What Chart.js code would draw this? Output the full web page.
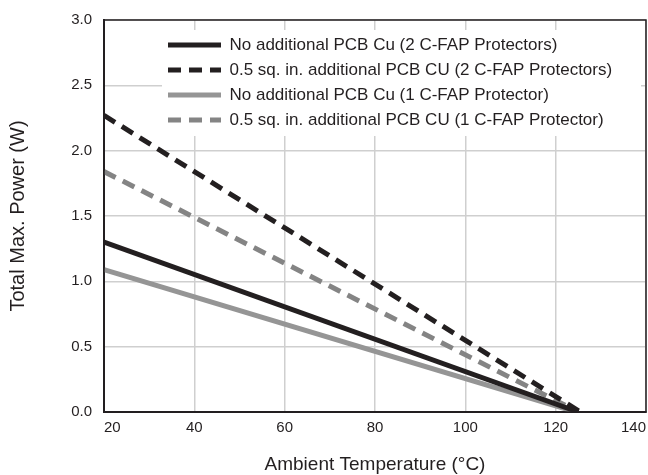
<!DOCTYPE html>
<html>
<head>
<meta charset="utf-8">
<script src="https://cdn.jsdelivr.net/npm/chart.js@4.4.1/dist/chart.umd.min.js"></script>
<style>
  body { margin: 0; background: #fff; }
  canvas { display: block; }
</style>
</head>
<body>
<canvas id="powerChart" width="648" height="475"></canvas>
<script>
// tick labels
const tempTicks = [20, 40, 60, 80, 100, 120, 140];
const powerTicks = [0.0, 0.5, 1.0, 1.5, 2.0, 2.5, 3.0];

// series (ambient temp in C -> total max power in W)
const seriesNames = [
  'No additional PCB Cu (2 C-FAP Protectors)',
  '0.5 sq. in. additional PCB CU (2 C-FAP Protectors)',
  'No additional PCB Cu (1 C-FAP Protector)',
  '0.5 sq. in. additional PCB CU (1 C-FAP Protector)'
];
const noCu2Temp = [20, 125];
const noCu2Power = [1.30, 0];
const halfCu2Temp = [20, 125.5];
const halfCu2Power = [2.27, 0];
const noCu1Temp = [20, 124.5];
const noCu1Power = [1.09, 0];
const halfCu1Temp = [20, 125];
const halfCu1Power = [1.84, 0];

const BLACK = '#231f20';
const GRAY = '#959595';
const GRAY_DASH = '#848484';
const FONT = "'Liberation Sans', Arial, sans-serif";

const toPoints = (temps, power) => temps.map((t, i) => ({ x: t, y: power[i] }));

const makeLine = (label, temps, power, color, dashed) => ({
  label: label,
  data: toPoints(temps, power),
  borderColor: color,
  backgroundColor: color,
  borderWidth: 5,
  borderDash: dashed ? [13, 8] : [],
  borderCapStyle: 'butt',
  pointRadius: 0,
  fill: false,
  tension: 0
});

// legend sits inside the plot on a white panel
const legendPanel = {
  id: 'legendPanel',
  afterLayout(chart) {
    chart.legend.left = 160;
    chart.legend.top = 28.5;
  },
  beforeDatasetsDraw(chart) {
    const { ctx, chartArea, legend } = chart;
    const rows = legend.legendItems.length;
    ctx.save();
    ctx.fillStyle = '#fff';
    ctx.fillRect(legend.left + 2, legend.top + 1.5, chartArea.right - 7 - legend.left, rows * 25 + 6);
    ctx.restore();
    legend.draw();
  },
  afterDatasetsDraw(chart) {
    const { ctx, chartArea } = chart;
    ctx.save();
    ctx.strokeStyle = BLACK;
    ctx.lineWidth = 1.5;
    ctx.strokeRect(chartArea.left, chartArea.top, chartArea.right - chartArea.left, chartArea.bottom - chartArea.top);
    ctx.restore();
  }
};

new Chart(document.getElementById('powerChart'), {
  type: 'line',
  data: {
    datasets: [
      makeLine(seriesNames[0], noCu2Temp, noCu2Power, BLACK, false),
      makeLine(seriesNames[1], halfCu2Temp, halfCu2Power, BLACK, true),
      makeLine(seriesNames[2], noCu1Temp, noCu1Power, GRAY, false),
      makeLine(seriesNames[3], halfCu1Temp, halfCu1Power, GRAY_DASH, true)
    ]
  },
  options: {
    responsive: false,
    animation: false,
    layout: { padding: { top: 20, right: 2, left: 0, bottom: 0 } },
    plugins: {
      tooltip: { enabled: false },
      legend: {
        position: 'chartArea',
        align: 'start',
        labels: {
          usePointStyle: true,
          pointStyle: 'line',
          pointStyleWidth: 53,
          padding: 8,
          color: BLACK,
          font: { family: FONT, size: 17 },
          generateLabels: chart =>
            Chart.defaults.plugins.legend.labels.generateLabels(chart).map(item => {
              const ds = chart.data.datasets[item.datasetIndex];
              return { ...item, lineDash: ds.borderDash, lineWidth: ds.borderWidth, strokeStyle: ds.borderColor };
            })
        }
      }
    },
    scales: {
      x: {
        type: 'linear',
        min: 20,
        max: 140,
        afterBuildTicks: s => { s.ticks = tempTicks.map(v => ({ value: v })); },
        afterFit: s => { s.height = 63; s.paddingLeft = 0; s.paddingRight = 0; },
        grid: { color: '#cfcfcf', lineWidth: 1.5, drawTicks: false },
        border: { color: BLACK, width: 2 },
        ticks: { color: BLACK, padding: 7, align: 'inner', font: { family: FONT, size: 15 } },
        title: {
          display: true,
          text: 'Ambient Temperature (°C)',
          color: BLACK,
          padding: { top: 0, bottom: 0 },
          font: { family: FONT, size: 19, lineHeight: '20px' }
        }
      },
      y: {
        min: 0,
        max: 3,
        afterBuildTicks: s => { s.ticks = powerTicks.map(v => ({ value: v })); },
        afterFit: s => { s.width = 104; s.paddingTop = 0; s.paddingBottom = 0; },
        grid: { color: '#cfcfcf', lineWidth: 1.5, drawTicks: false },
        border: { color: BLACK, width: 2 },
        ticks: {
          color: BLACK,
          padding: 12,
          font: { family: FONT, size: 15 },
          callback: v => v.toFixed(1)
        },
        title: {
          display: true,
          text: 'Total Max. Power (W)',
          color: BLACK,
          padding: { top: 8, bottom: 0 },
          font: { family: FONT, size: 20, lineHeight: '20px' }
        }
      }
    }
  },
  plugins: [legendPanel]
});
</script>
</body>
</html>
